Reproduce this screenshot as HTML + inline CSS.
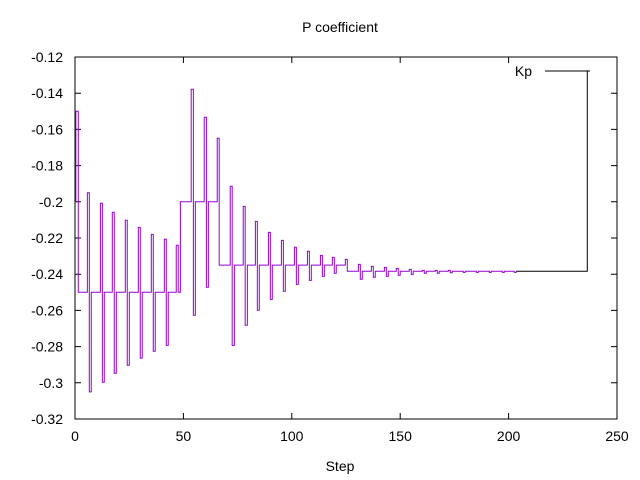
<!DOCTYPE html>
<html><head><meta charset="utf-8"><style>
html,body{margin:0;padding:0;background:#fff;}
svg{display:block;font-family:"Liberation Sans",sans-serif;}
</style></head><body>
<svg id="chart" width="640" height="480">
<rect x="0" y="0" width="640" height="480" fill="#fff"/>
<text x="340" y="32" font-size="14" text-anchor="middle">P coefficient</text>
<text x="340" y="471" font-size="14" text-anchor="middle">Step</text>
<g id="axes"></g>
<g id="series"></g>
<g>
<text x="532" y="76" font-size="14" text-anchor="end">Kp</text>
<line x1="545" y1="71" x2="590" y2="71" stroke="#000" stroke-width="1"/>
</g>
</svg>
<script>
const xTicks = [0, 50, 100, 150, 200, 250];
const yTicks = [-0.12, -0.14, -0.16, -0.18, -0.2, -0.22, -0.24, -0.26, -0.28, -0.3, -0.32];
const yTickLabels = ["-0.12","-0.14","-0.16","-0.18","-0.2","-0.22","-0.24","-0.26","-0.28","-0.3","-0.32"];
const steps = [0,0.4,1.5,
5.7,6.6,7.5, 11.7,12.6,13.5, 17.2,18.1,19.05, 23.2,24.1,25.05, 29.2,30.1,31.0,
35.2,36.1,37.0, 41.2,42.1,43.0, 46.7,47.6,48.6, 53.6,54.6,55.5, 59.6,60.6,61.5,
65.6,66.5, 71.6,72.5,73.5, 77.6,78.5,79.5, 83.2,84.1,85.0, 89.2,90.1,91.0,
95.2,96.1,97.0, 101.2,102.1,103.0, 107.2,108.1,109.0, 113.2,114.1,115.0,
118.7,119.6,120.5, 124.7,125.6, 130.7,131.6,132.5, 136.7,137.6,138.5,
142.7,143.6,144.5, 148.2,149.1,150.0, 154.2,155.1,156.0, 160.2,161.1,162.0,
166.2,167.1,168.0, 172.2,173.1,174.0, 179.1,180.0, 185.1,186.0, 191.1,192.0,
197.1,198.0, 202.6,203.5, 236.3];
const kpValues = [-0.2,-0.15,-0.25,
-0.195,-0.305,-0.25, -0.2008,-0.2997,-0.25, -0.2058,-0.2947,-0.25, -0.2102,-0.2903,-0.25, -0.2141,-0.2864,-0.25,
-0.218,-0.2826,-0.25, -0.2207,-0.2793,-0.25, -0.224,-0.25,-0.2, -0.1378,-0.2627,-0.2, -0.1533,-0.2472,-0.2,
-0.1649,-0.235, -0.1914,-0.2793,-0.235, -0.2025,-0.2682,-0.235, -0.2108,-0.2599,-0.235, -0.2169,-0.2539,-0.235,
-0.2213,-0.2494,-0.235, -0.2251,-0.2456,-0.235, -0.2273,-0.2434,-0.235, -0.2296,-0.2412,-0.235,
-0.2307,-0.2395,-0.235, -0.2318,-0.2384, -0.2346,-0.2428,-0.2384, -0.2357,-0.2417,-0.2384,
-0.2362,-0.2412,-0.2384, -0.2368,-0.2406,-0.2384, -0.2373,-0.2401,-0.2384, -0.2379,-0.2395,-0.2384,
-0.2379,-0.2395,-0.2384, -0.2379,-0.2392,-0.2384, -0.239,-0.2384, -0.239,-0.2384, -0.239,-0.2384,
-0.239,-0.2384, -0.239,-0.2384, -0.1274];
const NS = "http://www.w3.org/2000/svg";
const L = 75, R = 617, T = 57, B = 419;
function xs(v){ return L + (v - 0) / 250 * (R - L); }
function ys(v){ return T + (-0.12 - v) / 0.2 * (B - T); }
const axes = document.getElementById('axes');
function mk(tag, attrs, parent){ const e = document.createElementNS(NS, tag); for (const k in attrs) e.setAttribute(k, attrs[k]); parent.appendChild(e); return e; }
const frame = mk('rect', {x:L, y:T, width:R-L, height:B-T, fill:'none', stroke:'#000', 'stroke-width':1}, axes);


xTicks.forEach(function(t){
  const x = xs(t);
  const tk = mk('path', {d:'M'+x+','+B+'v-6M'+x+','+T+'v6', stroke:'#000', 'stroke-width':1}, axes);
  
  
  const lb = mk('text', {x:x, y:B+22, 'font-size':14, 'text-anchor':'middle'}, axes);
  lb.textContent = t;
  
  
});
yTicks.forEach(function(t, i){
  const y = ys(t);
  const tk = mk('path', {d:'M'+L+','+y+'h6M'+R+','+y+'h-6', stroke:'#000', 'stroke-width':1}, axes);
  
  
  const lb = mk('text', {x:L-12, y:y+5, 'font-size':14, 'text-anchor':'end'}, axes);
  lb.textContent = yTickLabels[i];
  
  
});
function stepPath(from, to){
  let d = '';
  for (let i = from; i <= to; i++){
    const x = xs(steps[i]), y = ys(kpValues[i]);
    if (i === from) d += 'M' + x + ',' + y;
    else d += 'V' + y;
    if (i < to) d += 'H' + xs(steps[i+1]);
  }
  return d;
}
const series = document.getElementById('series');
const n = steps.length;
const cut = n - 2;
const p1 = mk('path', {d:stepPath(0, cut), fill:'none', stroke:'#9400d3', 'stroke-width':1}, series);


const p2 = mk('path', {d:stepPath(cut, n-1), fill:'none', stroke:'#000', 'stroke-width':1}, series);


</script>
</body></html>
